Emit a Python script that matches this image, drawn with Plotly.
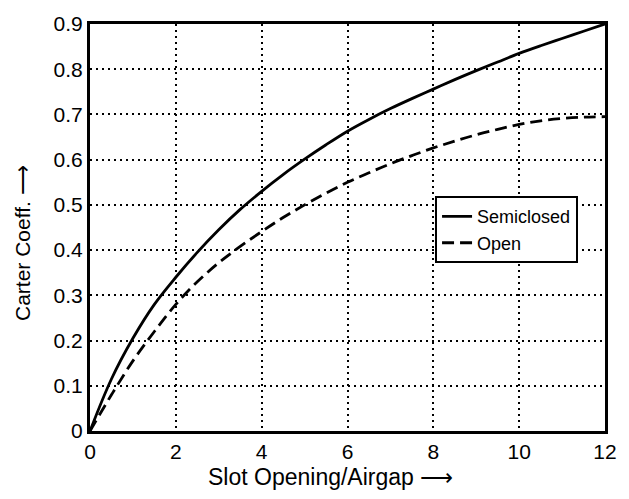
import plotly.graph_objects as go

# Slot opening / airgap ratio
ratio = [0, 0.5, 1, 1.5, 2, 2.5, 3, 3.5, 4, 4.5, 5, 5.5, 6,
         6.5, 7, 7.5, 8, 8.5, 9, 9.5, 10, 10.5, 11, 11.5, 12]
# Carter coefficient for each slot type
semiclosed = [0, 0.115, 0.205, 0.28, 0.34, 0.395, 0.445, 0.49, 0.53, 0.567, 0.601, 0.633, 0.663,
              0.689, 0.713, 0.735, 0.756, 0.777, 0.797, 0.816, 0.835, 0.852, 0.868, 0.884, 0.90]
open_slot = [0, 0.08, 0.155, 0.22, 0.28, 0.33, 0.372, 0.408, 0.441, 0.472, 0.50, 0.526, 0.55,
             0.571, 0.591, 0.609, 0.626, 0.641, 0.655, 0.667, 0.678, 0.686, 0.691, 0.694, 0.695]

x_ticks = [0, 2, 4, 6, 8, 10, 12]
y_ticks = [0, 0.1, 0.2, 0.3, 0.4, 0.5, 0.6, 0.7, 0.8, 0.9]
y_labels = ["0", "0.1", "0.2", "0.3", "0.4", "0.5", "0.6", "0.7", "0.8", "0.9"]

font_family = "Liberation Sans, Arial, sans-serif"

fig = go.Figure()
fig.add_trace(go.Scatter(x=ratio, y=semiclosed, mode="lines", name="Semiclosed",
                         line=dict(color="black", width=2.8, shape="spline", smoothing=1)))
fig.add_trace(go.Scatter(x=ratio, y=open_slot, mode="lines", name="Open",
                         line=dict(color="black", width=2.8, dash="12px,6px",
                                   shape="spline", smoothing=1)))

axis_common = dict(
    showline=True, linecolor="black", linewidth=3, mirror=True,
    showgrid=True, gridcolor="black", gridwidth=1.5, griddash="2px,4px",
    zeroline=False, ticks="", tickfont=dict(size=21, color="black", family=font_family),
)

fig.update_xaxes(range=[0, 12], tickvals=x_ticks, ticktext=[str(t) for t in x_ticks],
                 **axis_common)
fig.update_yaxes(range=[0, 0.9], tickvals=y_ticks, ticktext=y_labels,
                 **axis_common)

# Axis titles
fig.add_annotation(text="Slot Opening/Airgap ⟶", xref="paper", yref="paper",
                   x=0.4665, y=-0.112, xanchor="center", yanchor="middle", showarrow=False,
                   font=dict(size=23, color="black", family=font_family))
fig.add_annotation(text="Carter Coeff. ⟶", xref="paper", yref="paper",
                   x=-0.13, y=0.462, xanchor="center", yanchor="middle", showarrow=False,
                   textangle=-90, font=dict(size=21, color="black", family=font_family))

fig.update_layout(
    width=629, height=499,
    margin=dict(l=90, r=16, t=13, b=68),
    paper_bgcolor="white", plot_bgcolor="white",
    font=dict(family=font_family, color="black"),
    legend=dict(x=0.67, y=0.577, xanchor="left", yanchor="top",
                bgcolor="white", bordercolor="black", borderwidth=2,
                font=dict(size=18, color="black", family=font_family),
                tracegroupgap=0, itemwidth=30),
    showlegend=True,
)

fig.write_html("out.html")
